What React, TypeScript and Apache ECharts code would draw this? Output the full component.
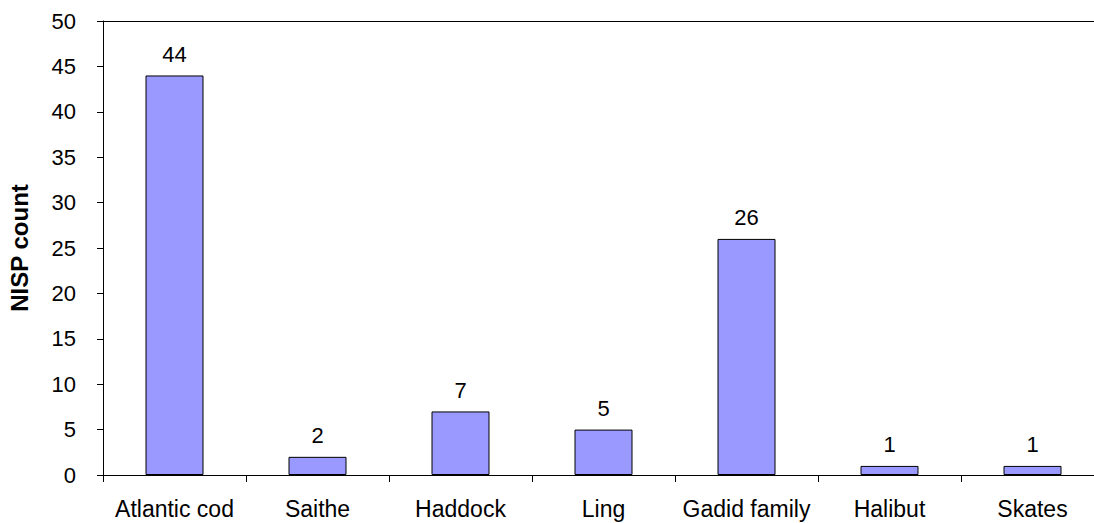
import React, { useEffect, useRef } from "react";
import * as echarts from "echarts";

const categories = ["Atlantic cod", "Saithe", "Haddock", "Ling", "Gadid family", "Halibut", "Skates"];
const counts = [44, 2, 7, 5, 26, 1, 1];
const yTicks = { min: 0, max: 50, interval: 5 };
const yAxisTitle = "NISP count";

export default function App() {
  const ref = useRef<HTMLDivElement>(null);
  useEffect(() => {
    if (!ref.current) return;
    const chart = echarts.init(ref.current, undefined, { renderer: "svg" });
    const font = "'Liberation Sans', Arial, sans-serif";
    chart.setOption({
      animation: false,
      backgroundColor: "#ffffff",
      grid: {
        left: 103,
        right: -10,
        top: 21,
        bottom: 48,
        containLabel: false,
        outerBoundsMode: "none",
      },
      xAxis: [
        {
          type: "category",
          data: categories,
          axisLine: { show: true, lineStyle: { color: "#000", width: 1 } },
          axisTick: { show: true, length: 7, lineStyle: { color: "#000" } },
          axisLabel: { color: "#000", fontSize: 23, fontFamily: font, margin: 22, interval: 0 },
          splitLine: { show: false },
        },
        {
          type: "category",
          data: categories,
          position: "top",
          axisLine: { show: true, lineStyle: { color: "#000", width: 1 } },
          axisTick: { show: false },
          axisLabel: { show: false },
          splitLine: { show: false },
        },
      ],
      yAxis: {
        type: "value",
        min: yTicks.min,
        max: yTicks.max,
        interval: yTicks.interval,
        name: yAxisTitle,
        nameLocation: "middle",
        nameGap: 72,
        nameTextStyle: { color: "#000", fontSize: 24, fontWeight: "bold", fontFamily: font },
        axisLine: { show: true, lineStyle: { color: "#000", width: 1 } },
        axisTick: { show: true, length: 6, lineStyle: { color: "#000" } },
        axisLabel: { color: "#000", fontSize: 22, fontFamily: font, margin: 27 },
        splitLine: { show: false },
      },
      series: [
        {
          type: "bar",
          data: counts,
          barWidth: 58,
          itemStyle: { color: "#9999FF", borderColor: "#000", borderWidth: 1 },
          label: {
            show: true,
            position: "top",
            distance: 10,
            color: "#000",
            fontSize: 22,
            fontFamily: font,
          },
        },
      ],
    });
    return () => chart.dispose();
  }, []);
  return (
    <div
      ref={ref}
      style={{ position: "fixed", left: 0, top: 0, width: 1094, height: 523, background: "#fff" }}
    />
  );
}
